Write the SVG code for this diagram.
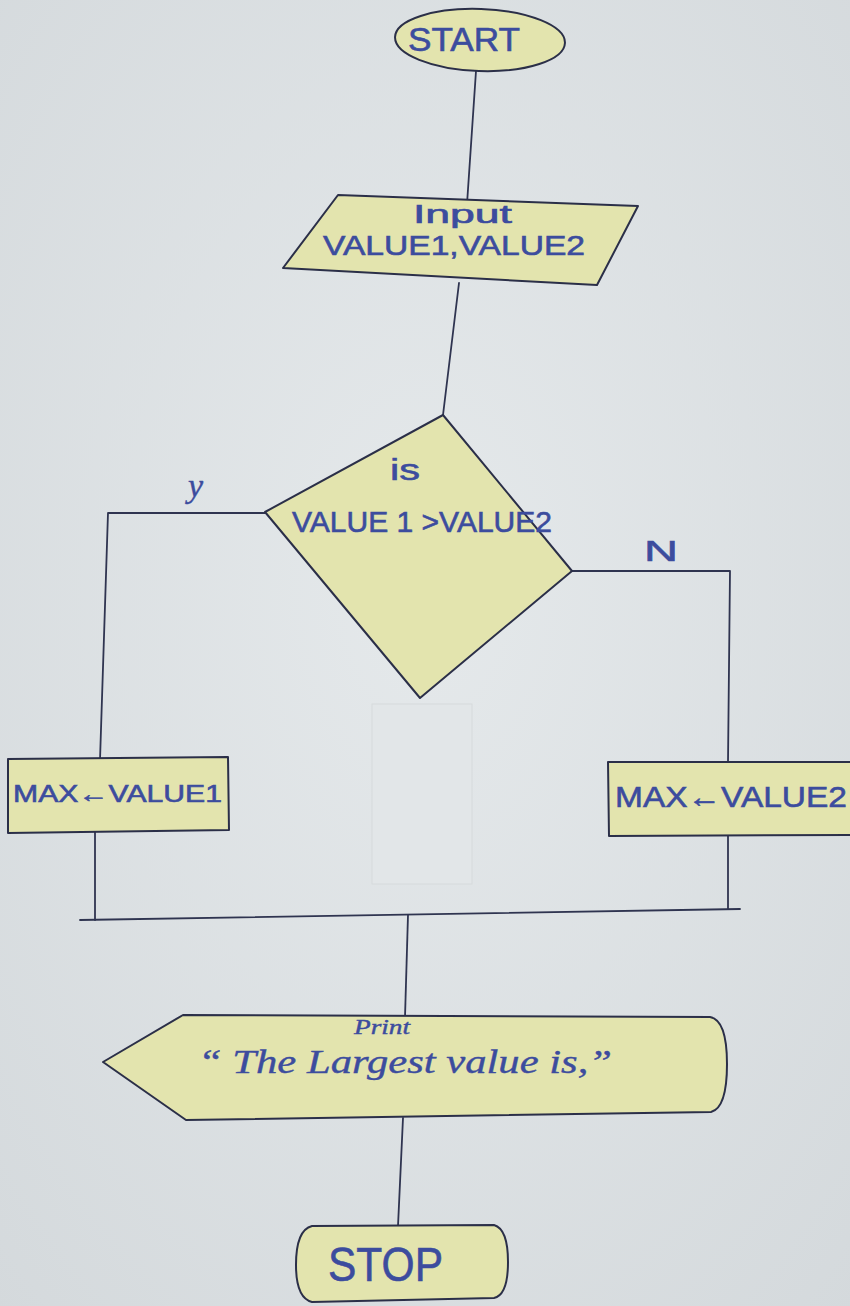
<svg xmlns="http://www.w3.org/2000/svg" width="850" height="1306" viewBox="0 0 850 1306">
  <defs>
    <radialGradient id="paper" cx="50%" cy="45%" r="75%">
      <stop offset="0" stop-color="#e5e9eb"/>
      <stop offset="1" stop-color="#d4d9dc"/>
    </radialGradient>
    <style>
      .shape { fill: #e3e4ae; stroke: #2b2f48; stroke-width: 2; stroke-linejoin: round; }
      .wire { fill: none; stroke: #2f3450; stroke-width: 1.8; stroke-linecap: round; stroke-linejoin: round; }
      .ink { fill: #3c4c9e; stroke: #3c4c9e; stroke-width: 0.6; font-family: "Liberation Sans", "DejaVu Sans", sans-serif; }
      .hand { fill: #3c4c9e; stroke: #3c4c9e; stroke-width: 0.4; font-family: "Liberation Serif", "DejaVu Serif", serif; font-style: italic; }
    </style>
  </defs>

  <!-- paper -->
  <rect x="0" y="0" width="850" height="1306" fill="url(#paper)"/>
  <!-- erased patch under the decision -->
  <rect x="372" y="704" width="100" height="180" fill="#e2e6e8" stroke="#d6dadc" stroke-width="1"/>

  <!-- connectors -->
  <g id="connectors">
    <path class="wire" d="M476,71 L467,204"/>
    <path class="wire" d="M459,283 L443,415"/>
    <path class="wire" d="M265,513 L108,513 L100,760"/>
    <path class="wire" d="M572,571 L730,571 L728,762"/>
    <path class="wire" d="M95,832 L95,920"/>
    <path class="wire" d="M728,836 L728,909"/>
    <path class="wire" d="M80,920 L740,909"/>
    <path class="wire" d="M408,915 L405,1017"/>
    <path class="wire" d="M403,1118 L398,1226"/>
  </g>

  <g id="start">
    <ellipse class="shape" cx="480" cy="40" rx="85" ry="31" transform="rotate(2 480 40)"/>
    <text class="ink" x="408" y="51" font-size="34" textLength="112" lengthAdjust="spacingAndGlyphs">START</text>
  </g>

  <g id="input">
    <path class="shape" d="M338,195 L638,206 L597,285 L283,268 Z"/>
    <text class="ink" x="413" y="223" font-size="25" textLength="99" lengthAdjust="spacingAndGlyphs">Input</text>
    <text class="ink" x="323" y="255" font-size="27" textLength="262" lengthAdjust="spacingAndGlyphs">VALUE1,VALUE2</text>
  </g>

  <g id="decision">
    <path class="shape" d="M443,415 L572,571 L420,698 L265,512 Z"/>
    <text class="ink" x="390" y="480" font-size="30" textLength="30" lengthAdjust="spacingAndGlyphs">is</text>
    <text class="ink" x="292" y="532" font-size="29" textLength="260" lengthAdjust="spacingAndGlyphs">VALUE 1 &gt;VALUE2</text>
  </g>

  <g id="label-y">
    <text class="hand" x="188" y="497" font-size="34">y</text>
  </g>
  <g id="label-n">
    <text class="ink" x="644" y="561" font-size="30" textLength="34" lengthAdjust="spacingAndGlyphs">N</text>
  </g>

  <g id="assign-1">
    <path class="shape" d="M8,759 L228,757 L229,830 L8,833 Z"/>
    <text class="ink" x="13" y="802" font-size="24" textLength="209" lengthAdjust="spacingAndGlyphs">MAX←VALUE1</text>
  </g>

  <g id="assign-2">
    <path class="shape" d="M608,762 L852,762 L852,835 L609,836 Z"/>
    <text class="ink" x="615" y="807" font-size="30" textLength="232" lengthAdjust="spacingAndGlyphs">MAX←VALUE2</text>
  </g>

  <g id="print">
    <path class="shape" d="M103,1062 L183,1015 L710,1017 Q727,1020 727,1064 Q727,1108 711,1112 L186,1120 Z"/>
    <text class="hand" x="354" y="1034" font-size="20" textLength="56" lengthAdjust="spacingAndGlyphs">Print</text>
    <text class="hand" x="198" y="1073" font-size="34" textLength="414" lengthAdjust="spacingAndGlyphs">“ The Largest value is,”</text>
  </g>

  <g id="stop">
    <path class="shape" d="M312,1226 L494,1225 Q508,1229 508,1262 Q508,1295 494,1298 L312,1302 Q296,1298 296,1265 Q296,1230 312,1226 Z"/>
    <text class="ink" x="328" y="1281" font-size="48" textLength="115" lengthAdjust="spacingAndGlyphs">STOP</text>
  </g>
</svg>
